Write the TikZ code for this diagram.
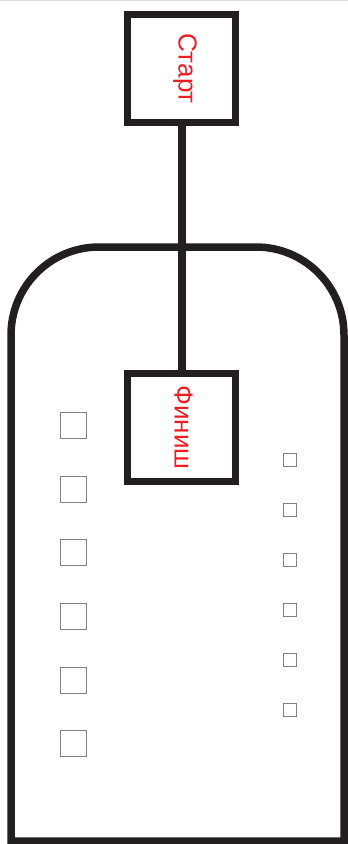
\documentclass[tikz,border=0pt]{standalone}
\usepackage{fontspec}
\setmainfont{Liberation Sans}
\definecolor{framegray}{HTML}{231F20}
\definecolor{labelred}{HTML}{EC1C24}
\tikzset{
  signbox/.style={draw=framegray, line width=7.5pt, minimum width=108pt, minimum height=108pt,
    inner sep=0pt, text=labelred, font=\fontsize{26}{30}\selectfont, rotate=-90,
    text height=19pt, text depth=13pt},
  bigmark/.style={draw=gray, line width=0.9pt, minimum size=26pt, inner sep=0pt},
  smallmark/.style={draw=gray, line width=0.9pt, minimum size=13pt, inner sep=0pt}
}
\begin{document}
\begin{tikzpicture}[x=1pt,y=-1pt]
  \useasboundingbox (0,0) rectangle (348,844);
  % Top rule
  \draw[gray!30, line width=1pt] (0,0.5) -- (348,0.5);
  % Rounded outline
  \draw[framegray, line width=7.5pt] (344,841) -- (11,841) [rounded corners=88pt] -- (11,247)
    -- (344,247) -- (344,841) [sharp corners] -- cycle;
  % Boxes
  \node[signbox] (start) at (181.5,68.5) {Старт};
  \node[signbox, text depth=5pt] (finish) at (181.5,427.5) {Финиш};
  % Link
  \draw[framegray, line width=8pt] (start) -- (finish);
  % Small squares
  \foreach \y [count=\i] in {425,489,552,616,680,743}
    \node[bigmark] (left\i) at (73.5,\y) {};
  \foreach \y [count=\i] in {460,510,560,610,660,710}
    \node[smallmark] (right\i) at (290,\y) {};
\end{tikzpicture}
\end{document}
